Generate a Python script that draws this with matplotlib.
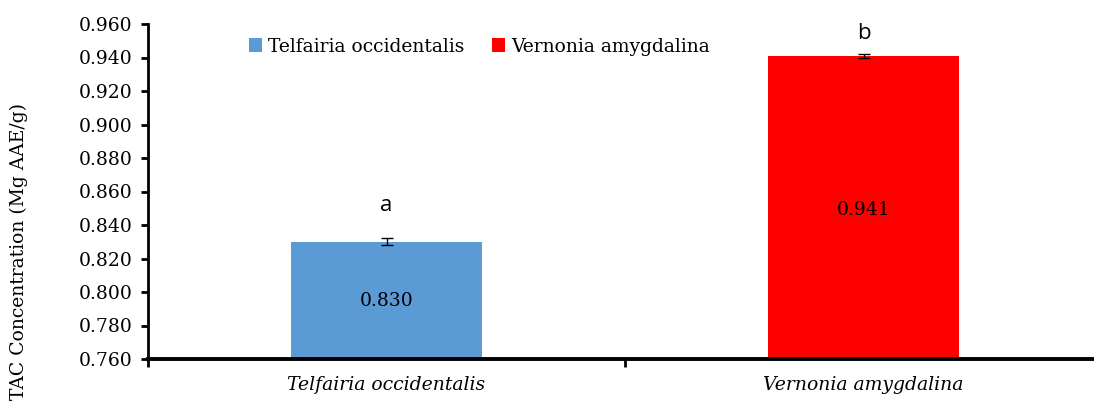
import numpy as np
import matplotlib.pyplot as plt

species = ["Telfairia occidentalis", "Vernonia amygdalina"]
tac = [0.830, 0.941]
err = [0.002, 0.001]
letters = ["a", "b"]
colors = ["#5B9BD5", "#FF0000"]

plt.rcParams["font.family"] = ["DejaVu Serif"]

fig = plt.figure(figsize=(10.94, 4.05), dpi=100)
ax = fig.add_axes([148 / 1094, 1 - 359 / 405, (1102 - 148) / 1094, (359 - 24) / 405])

x = np.arange(len(species))
bars = ax.bar(x, tac, width=0.4, color=colors, label=species, zorder=2)
ax.errorbar(x, tac, yerr=err, fmt="none", ecolor="black", elinewidth=1, capsize=4, capthick=1, zorder=3)

for xi, v, l in zip(x, tac, letters):
    ax.text(xi, 0.7945 if v < 0.9 else 0.849, f"{v:.3f}", ha="center", va="center", fontsize=13.5)
    ax.text(xi, v + 0.0215 if v < 0.9 else 0.9545, l, ha="center", va="center", fontsize=16,
            family=["Open Sans"])

ax.set_xlim(-0.5, 1.5)
ax.set_ylim(0.760, 0.960)
ax.set_yticks(np.arange(0.760, 0.961, 0.020))
ax.set_yticklabels([f"{t:.3f}" for t in np.arange(0.760, 0.961, 0.020)], fontsize=13.5)
ax.set_xticks(x)
ax.set_xticklabels(species, fontsize=13.5, style="italic")
ax.set_xticks([-0.5, 0.5, 1.5], minor=True)
ax.tick_params(axis="x", which="major", length=0, pad=12)
ax.tick_params(axis="x", which="minor", length=6, width=2, direction="out")
ax.tick_params(axis="y", length=5, width=2, direction="out", pad=6)

for s in ["top", "right"]:
    ax.spines[s].set_visible(False)
ax.spines["left"].set_linewidth(2)
ax.spines["bottom"].set_linewidth(2.8)

ax.set_ylabel("TAC Concentration (Mg AAE/g)", fontsize=13.5)
ax.yaxis.set_label_coords(-0.126, 0.32)

ax.legend(loc="upper left", bbox_to_anchor=(0.088, 1.01), ncol=2, frameon=False, fontsize=13.5,
          handlelength=0.7, handleheight=0.7, handletextpad=0.3, columnspacing=1.5)

fig.savefig("out.png", dpi=100)
